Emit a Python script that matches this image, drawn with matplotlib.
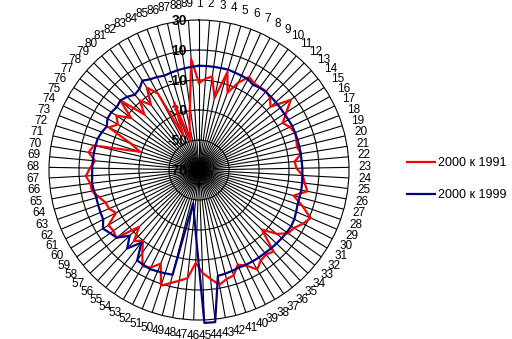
import numpy as np
import matplotlib
matplotlib.use('Agg')
import matplotlib.pyplot as plt
from matplotlib.transforms import offset_copy

categories = [str(i) for i in range(1, 90)]

# 2000 к 1991
red_vals = [-12, -9, -7, -21, -2, -15, -6, 0.5, -1.5, -1.5,
            -1, -2.5, -6.3, 7, -0.3, -6, -3, -1.3, -2, -3,
            -1, -6, -5, -0.7, 1, 3.6, -4.7, 3, 11, 8,
            4.2, 2.9, -3, -12.3, 3.6, 2, 3, 6.8, 1, -1.8,
            4, 5, 7.7, 3, -1.3, -8, 2.5, 5, 7.7, 11.2,
            -2.6, 2.5, 4.4, -3, -10, -5.7, -15, 1.3, 0, 0.7,
            -7.7, -4.7, -4, -1, 2.7, 3, 5.5, 2.7, -0.4, 4.5,
            2, -29, -21, -3.5, -8, -4, -13, 0, -18, -9,
            -16, -5, -12, -45, -22, -50, -40, -27, 4]

# 2000 к 1999
blue_vals = [-0.5, -0.5, -0.5, -0.5, -0.3, -0.8, -1, -1.2, -2.8, -1.8,
             -1.5, -1.6, -1.7, -1.8, -1.9, -1.6, -1.3, -1.3, -1.3, -1.3,
             -1.3, -1.3, -1.1, -1, -0.7, -0.5, -0.5, -0.4, 0.5, 1.5,
             2, 1.8, 1.5, 1.2, 1, 0.7, 0.7, 0.6, 0.5, 0.3,
             0.8, 1.3, 1.7, 32, 32, -22.6, -39.5, -47.3, 2, 2.5,
             3, 3.7, 3.3, 3, -8.3, 0.9, -6.3, 1, 2.7, 5,
             1.9, 1.5, 1.2, 0.9, 1.4, 1.9, 1.3, 1.2, 1.1, 1,
             0.9, 0.7, -0.5, -2, 0, 0, -1, 0, -1.6, -4,
             -3, 0.5, -1.3, -2, -3, -2.5, -2, -1.5, -1]

ring_vals = [-70, -50, -30, -10, 10, 30]

n = len(categories)
theta = np.arange(n) * 2 * np.pi / n
theta_c = np.append(theta, theta[0])

fig = plt.figure(figsize=(5.12, 3.39), dpi=100)
ax = fig.add_axes([49 / 512, (339 - 170 - 150) / 339, 300 / 512, 300 / 339], projection='polar')
ax.set_theta_zero_location('N')
ax.set_theta_direction(-1)
ax.set_ylim(-70, 30)
ax.set_axisbelow(True)

ax.set_xticks(theta)
ax.set_xticklabels(categories, fontsize=8.5, family='Liberation Sans')
ax.tick_params(axis='x', pad=1)
ax.set_yticks(ring_vals[1:-1])
ax.set_yticklabels([])
ax.grid(True, color='black', lw=0.8)
ax.spines['polar'].set_color('black')
ax.spines['polar'].set_linewidth(0.8)

tr = offset_copy(ax.transData, fig=fig, x=-12, y=-1, units='dots')
for v in ring_vals:
    ax.text(0, v, str(v), transform=tr, ha='right', va='center',
            fontsize=10, fontweight='bold', family='Liberation Sans', zorder=2)

ax.plot(theta_c, np.append(red_vals, red_vals[0]), color='#ff0000', lw=1.6,
        label='2000 к 1991', clip_on=False, zorder=3)
ax.plot(theta_c, np.append(blue_vals, blue_vals[0]), color='#000080', lw=1.6,
        label='2000 к 1999', clip_on=False, zorder=4)

fig.legend(loc='center left', bbox_to_anchor=(401 / 512, 1 - 179 / 339), frameon=False,
           prop={'family': 'Liberation Sans', 'size': 9}, handlelength=2.2,
           handletextpad=0.3, labelspacing=1.6, borderpad=0)

fig.savefig('out.png', dpi=100)
